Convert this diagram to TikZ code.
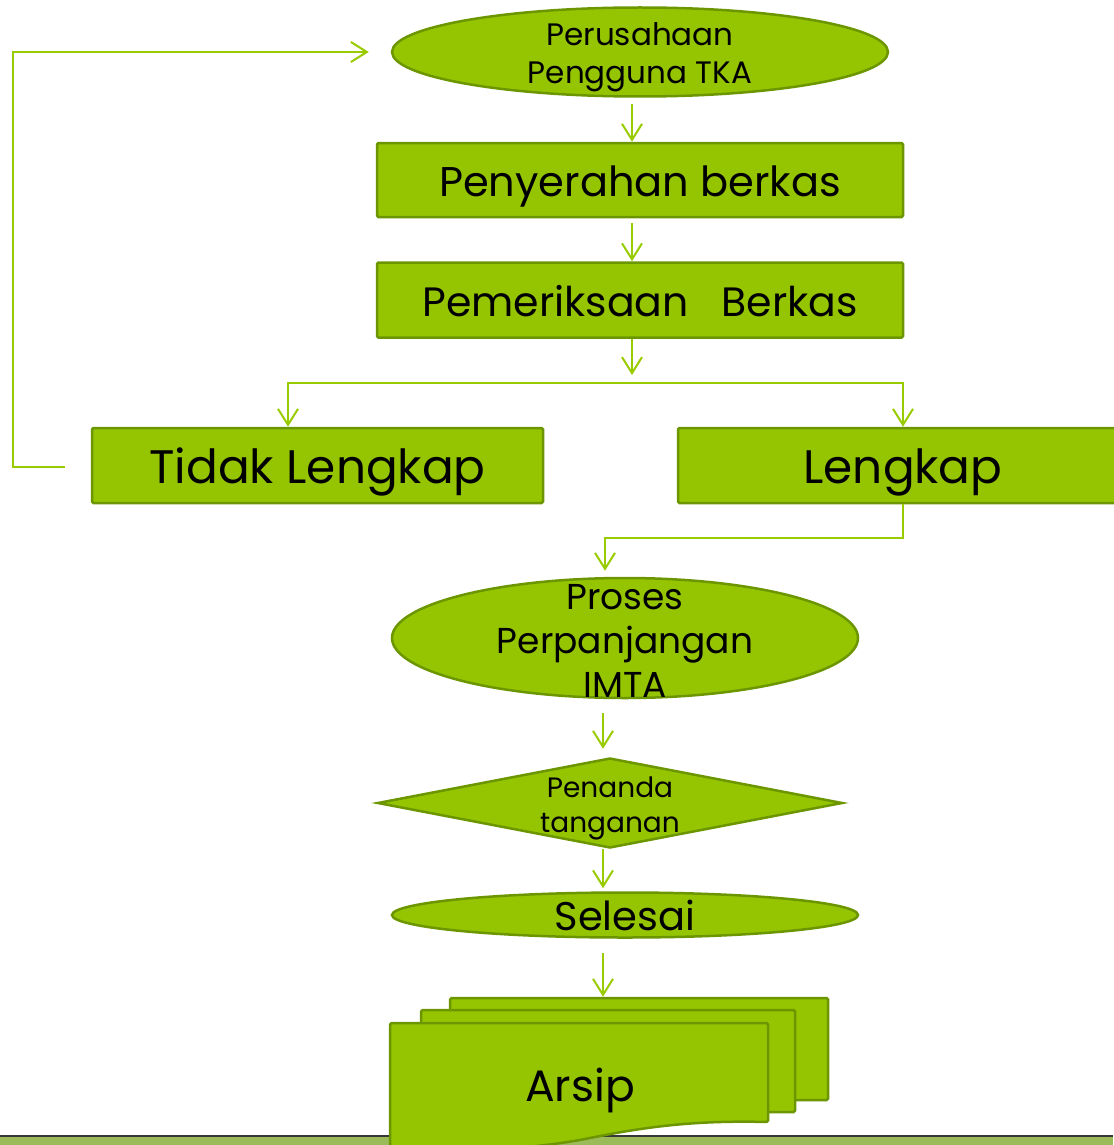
\documentclass[tikz,border=0pt]{standalone}
\usepackage{fontspec}
\setmainfont{Poppins}
\usetikzlibrary{shapes.geometric,arrows.meta,calc}
\definecolor{leaf}{RGB}{149,197,0}
\definecolor{leafedge}{RGB}{108,150,0}
\definecolor{wire}{RGB}{153,204,0}
\definecolor{band}{RGB}{155,187,90}
\definecolor{bandline}{RGB}{55,55,55}

\begin{document}
\begin{tikzpicture}[x=1pt,y=-1pt,
  box/.style={rectangle,draw=leafedge,fill=leaf,line width=2.5pt,rounded corners=1.5pt,inner sep=0pt,text depth=0pt},
  oval/.style={ellipse,draw=leafedge,fill=leaf,line width=2.5pt,inner sep=0pt},
  decision/.style={diamond,draw=leafedge,fill=leaf,line width=2.5pt,inner sep=0pt,aspect=5.2},
  sheet/.style={draw=leafedge,fill=leaf,line width=2.5pt,rounded corners=1.5pt},
  txt/.style={align=center,text=black,inner sep=0pt},
  flow/.style={draw=wire,line width=2pt,-{Straight Barb[length=16pt,width=20pt,line width=2pt]}}]
\useasboundingbox (0,0) rectangle (1113,1145);
% bottom band
\fill[band] (0,1137) rectangle (1113,1146);
\draw[bandline,line width=2pt] (0,1136) -- (1113,1136);
% shapes
\node[oval,minimum width=496,minimum height=89,
  label={[txt,yshift=-5pt,font=\fontsize{31}{38}\selectfont]center:Perusahaan\\Pengguna TKA}] (perusahaan) at (640,52) {};
\node[box,minimum width=526,minimum height=74,text height=33pt,font=\fontsize{41.5}{50}\selectfont] (serah) at (640,180) {Penyerahan berkas};
\node[box,minimum width=526,minimum height=75,text height=33pt,font=\fontsize{41}{50}\selectfont] (periksa) at (640,300) {Pemeriksaan\ \ \ Berkas};
\node[box,minimum width=451,minimum height=75,text height=35pt,font=\fontsize{47}{56}\selectfont] (tidak) at (317.5,465.5) {Tidak Lengkap};
\node[box,minimum width=450,minimum height=75,text height=35pt,font=\fontsize{47}{56}\selectfont] (lengkap) at (903,465.5) {Lengkap};
\node[oval,minimum width=466,minimum height=120,
  label={[txt,yshift=-3pt,font=\fontsize{36}{44}\selectfont]center:Proses\\Perpanjangan\\IMTA}] (proses) at (625,638) {};
\node[decision,minimum width=465,minimum height=90,
  label={[txt,yshift=-5pt,font=\fontsize{28}{35}\selectfont]center:Penanda\\tanganan}] (tanda) at (610,803) {};
\node[oval,minimum width=466,minimum height=45,
  label={[txt,font=\fontsize{40}{48}\selectfont]center:Selesai}] (selesai) at (625,915) {};
% arsip stack
\node[box,minimum width=378,minimum height=102] (arsipC) at (639,1049) {};
\node[box,minimum width=374,minimum height=102] (arsipB) at (608,1061) {};
\draw[sheet] (390,1023) -- (768,1023) -- (768,1122)
  .. controls (690,1120) and (640,1128) .. (590,1138)
  .. controls (530,1150) and (460,1152) .. (390,1148) -- cycle;
\node[txt,font=\fontsize{44}{52}\selectfont] (arsip) at (580,1090) {Arsip};
% connectors
\coordinate (split) at (632,383);
\coordinate (forkL) at (288,383);
\coordinate (forkR) at (903,383);
\coordinate (back) at (65,467);
\draw[flow] ($(perusahaan.south)+(-8,6)$) -- ($(serah.north)+(-8,0)$);
\draw[flow] ($(serah.south)+(-8,5)$) -- ($(periksa.north)+(-8,0)$);
\draw[flow] (periksa.south -| split) -- ([yshift=8pt]split);
\draw[flow] (split) -- (forkL) -- (forkL |- tidak.north);
\draw[flow] (split) -- (forkR) -- (lengkap.north);
\draw[flow] (back) -- ++(-52,0) |- ($(perusahaan.west)+(-22,0)$);
\draw[flow] (lengkap.south) -- ++(0,34) -| ($(proses.north)+(-20,-6)$);
\draw[flow] ($(proses.south)+(-22,14)$) -- ($(tanda.north)+(-7,-8)$);
\draw[flow] ($(tanda.south)+(-7,0)$) -- ($(selesai.north)+(-22,-3)$);
\draw[flow] ($(selesai.south)+(-22,14)$) -- ($(arsipC.north)+(-36,0)$);
\end{tikzpicture}
\end{document}
